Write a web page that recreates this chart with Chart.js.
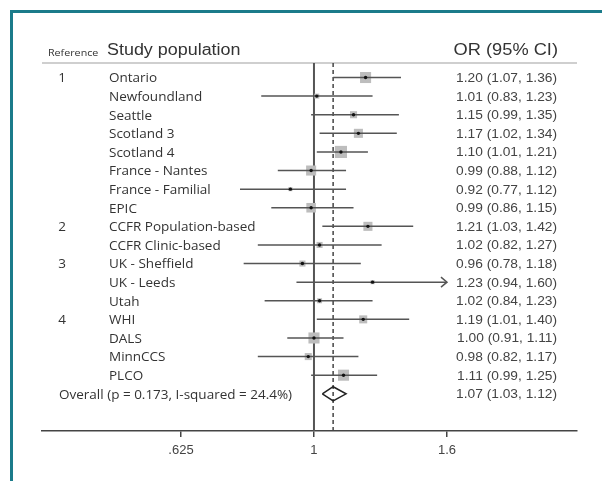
<!DOCTYPE html>
<html>
<head>
<meta charset="utf-8">
<script src="https://cdn.jsdelivr.net/npm/chart.js@4.4.0/dist/chart.umd.min.js"></script>
<style>
  html, body { margin: 0; padding: 0; background: #fff; }
  canvas { display: block; }
</style>
</head>
<body>
<canvas id="forest" width="602" height="481"></canvas>
<script>
const studies = ['Ontario', 'Newfoundland', 'Seattle', 'Scotland 3', 'Scotland 4', 'France - Nantes',
  'France - Familial', 'EPIC', 'CCFR Population-based', 'CCFR Clinic-based', 'UK - Sheffield',
  'UK - Leeds', 'Utah', 'WHI', 'DALS', 'MinnCCS', 'PLCO'];
const references = ['1', '', '', '', '', '', '', '', '2', '', '3', '', '', '4', '', '', ''];
const oddsRatios = [1.20, 1.01, 1.15, 1.17, 1.10, 0.99, 0.92, 0.99, 1.21, 1.02, 0.96, 1.23, 1.02, 1.19, 1.00, 0.98, 1.11];
const ciLower = [1.07, 0.83, 0.99, 1.02, 1.01, 0.88, 0.77, 0.86, 1.03, 0.82, 0.78, 0.94, 0.84, 1.01, 0.91, 0.82, 0.99];
const ciUpper = [1.36, 1.23, 1.35, 1.34, 1.21, 1.12, 1.12, 1.15, 1.42, 1.27, 1.18, 1.60, 1.23, 1.40, 1.11, 1.17, 1.25];
// study weights (%)
const weights = [10.3, 2.1, 4.2, 6.9, 12.3, 8.5, 1.4, 7.7, 6.9, 3.1, 3.1, 1.4, 2.1, 5.4, 10.3, 4.2, 10.3];

const overallOR = 1.07;
const overallLower = 1.03;
const overallUpper = 1.12;
const overallLabel = 'Overall (p = 0.173, I-squared = 24.4%)';

const xTicks = [0.625, 1, 1.6];
const xTickLabels = ['.625', '1', '1.6'];

// axis range (log scale), and row range
const X_MIN = 0.3825, X_MAX = 2.533;
const Y_MIN = -0.78, Y_MAX = 19;
const overallRow = studies.length;

function fmt(v) {
  return v.toFixed(2);
}

function drawText(ctx, text, x, y, font, color, align, sx) {
  ctx.save();
  ctx.font = font;
  ctx.fillStyle = color;
  ctx.textAlign = align;
  ctx.textBaseline = 'middle';
  ctx.translate(x, y);
  ctx.scale(sx || 1, 1);
  ctx.fillText(text, 0, 0);
  ctx.restore();
}

const frame = {
  id: 'frame',
  beforeDraw(chart) {
    const { ctx, chartArea } = chart;
    ctx.save();
    ctx.fillStyle = '#fff';
    ctx.fillRect(0, 0, chart.width, chart.height);
    ctx.fillStyle = '#1b7b8a';
    ctx.fillRect(10, 10, chart.width - 10, 3);
    ctx.fillRect(10, 10, 3, chart.height - 10);
    // header rule
    ctx.strokeStyle = '#cfcfcf';
    ctx.lineWidth = 2;
    ctx.beginPath();
    ctx.moveTo(chartArea.left, chartArea.top);
    ctx.lineTo(chartArea.right, chartArea.top);
    ctx.stroke();
    ctx.restore();
  }
};

const forestText = {
  id: 'forestText',
  afterDraw(chart) {
    const { ctx } = chart;
    const x = chart.scales.x, y = chart.scales.y;
    const labelFont = '13.5px "Open Sans"';
    const numFont = '12.5px "Liberation Sans"';
    const lastTick = xTicks[xTicks.length - 1];

    drawText(ctx, 'Reference', 48, 53, '9px "Open Sans"', '#333', 'left', 1.19);
    drawText(ctx, 'Study population', 107, 51, '16px "Liberation Sans"', '#333', 'left', 1.12);
    drawText(ctx, 'OR (95% CI)', 558, 51, '16px "Liberation Sans"', '#333', 'right', 1.14);

    studies.forEach((name, i) => {
      const py = y.getPixelForValue(i) + 1;
      if (references[i]) drawText(ctx, references[i], 62, py, labelFont, '#333', 'center');
      drawText(ctx, name, 109, py, labelFont, '#333', 'left');
      const txt = `${fmt(oddsRatios[i])} (${fmt(ciLower[i])}, ${fmt(ciUpper[i])})`;
      drawText(ctx, txt, 557, py, numFont, '#444', 'right', 1.1);

      // arrow where the interval reaches the end of the axis
      if (ciUpper[i] >= lastTick) {
        const ax = x.getPixelForValue(lastTick);
        const ay = y.getPixelForValue(i);
        ctx.save();
        ctx.strokeStyle = '#555';
        ctx.lineWidth = 1.5;
        ctx.beginPath();
        ctx.moveTo(ax - 6, ay - 5);
        ctx.lineTo(ax, ay);
        ctx.lineTo(ax - 6, ay + 5);
        ctx.stroke();
        ctx.restore();
      }
    });

    const oy = y.getPixelForValue(overallRow) + 1;
    drawText(ctx, overallLabel, 59, oy, labelFont, '#333', 'left');
    drawText(ctx, `${fmt(overallOR)} (${fmt(overallLower)}, ${fmt(overallUpper)})`, 557, oy, numFont, '#444', 'right', 1.1);
  }
};

function ciDatasets() {
  return studies.map((name, i) => ({
    label: name,
    data: [{ x: ciLower[i], y: i }, { x: Math.min(ciUpper[i], xTicks[xTicks.length - 1]), y: i }],
    showLine: true,
    borderColor: '#555',
    borderWidth: 1.5,
    pointRadius: 0,
    order: 2
  }));
}

const rowPoints = oddsRatios.map((v, i) => ({ x: v, y: i }));
const diamondHalf = 0.38;

const datasets = [
  {
    label: 'null',
    data: [{ x: 1, y: Y_MIN }, { x: 1, y: Y_MAX }],
    showLine: true, borderColor: '#555', borderWidth: 2, pointRadius: 0, order: 5
  },
  {
    label: 'overall line',
    data: [{ x: overallOR, y: Y_MIN }, { x: overallOR, y: Y_MAX }],
    showLine: true, borderColor: '#444', borderWidth: 1.5, borderDash: [4, 3], pointRadius: 0, order: 5
  },
  {
    label: 'boxes',
    data: rowPoints,
    pointStyle: 'rect',
    pointRadius: weights.map(w => Math.sqrt(w) * 3.45 / Math.SQRT2),
    backgroundColor: '#bdbdbd',
    borderWidth: 0,
    order: 3
  },
  ...ciDatasets(),
  {
    label: 'estimates',
    data: rowPoints,
    pointRadius: 1.7,
    backgroundColor: '#111',
    borderWidth: 0,
    order: 1
  },
  {
    label: 'overall',
    data: [
      { x: overallLower, y: overallRow },
      { x: overallOR, y: overallRow - diamondHalf },
      { x: overallUpper, y: overallRow },
      { x: overallOR, y: overallRow + diamondHalf },
      { x: overallLower, y: overallRow }
    ],
    showLine: true, borderColor: '#222', borderWidth: 1.5, pointRadius: 0, tension: 0, order: 1
  }
];

new Chart(document.getElementById('forest'), {
  type: 'scatter',
  data: { datasets },
  options: {
    responsive: false,
    animation: false,
    events: [],
    layout: { padding: { left: 42, right: 25, top: 63, bottom: 0 } },
    plugins: { legend: { display: false }, tooltip: { enabled: false } },
    scales: {
      x: {
        type: 'logarithmic',
        min: X_MIN,
        max: X_MAX,
        afterBuildTicks: s => { s.ticks = xTicks.map(v => ({ value: v })); },
        afterFit: s => { s.height = 50; },
        ticks: {
          callback: (v, i) => xTickLabels[i],
          color: '#444',
          font: { family: 'Liberation Sans', size: 13 },
          padding: 6,
          maxRotation: 0,
          autoSkip: false
        },
        grid: { drawOnChartArea: false, tickLength: 6, color: '#444', lineWidth: 1.5 },
        border: { color: '#444', width: 1.5 }
      },
      y: {
        type: 'linear',
        min: Y_MIN,
        max: Y_MAX,
        reverse: true,
        display: false
      }
    }
  },
  plugins: [frame, forestText]
});
</script>
</body>
</html>
